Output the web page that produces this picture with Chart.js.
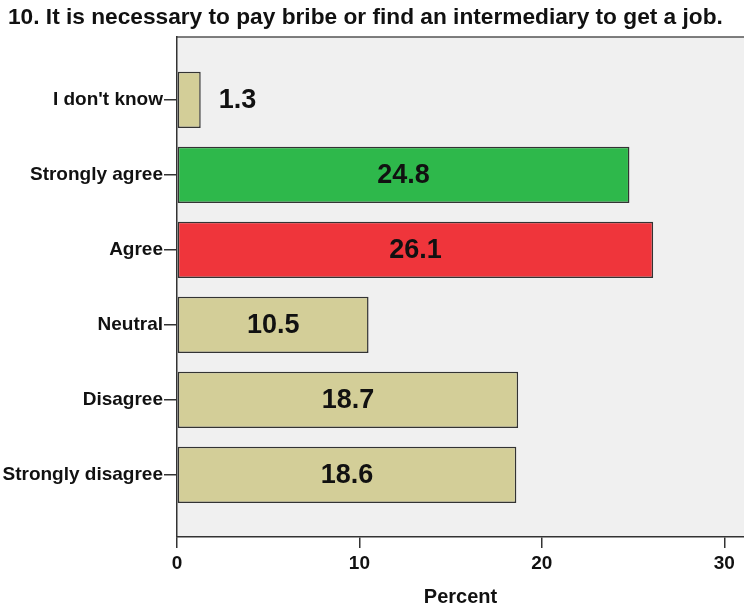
<!DOCTYPE html>
<html>
<head>
<meta charset="utf-8">
<script src="https://cdn.jsdelivr.net/npm/chart.js@4.4.1/dist/chart.umd.min.js"></script>
<style>
  html, body { margin: 0; padding: 0; background: #fff; overflow: hidden; }
  #wrap { width: 744px; height: 610px; }
</style>
</head>
<body>
<div id="wrap"><canvas id="chart" width="744" height="610"></canvas></div>
<script>
// data, top to bottom
const categories = ['I don\'t know', 'Strongly agree', 'Agree', 'Neutral', 'Disagree', 'Strongly disagree'];
const percents = [1.3, 24.8, 26.1, 10.5, 18.7, 18.6];
const barColors = ['#d3ce98', '#2eb84b', '#ef353b', '#d3ce98', '#d3ce98', '#d3ce98'];
const xTicks = [0, 10, 20, 30];

const titleText = '10. It is necessary to pay bribe or find an intermediary to get a job.';
const fontFamily = "'Liberation Sans', Arial, sans-serif";

// plot background, top frame line and the title (left of the axis labels)
const plotBackground = {
    id: 'plotBackground',
    beforeDraw(chart) {
        const { ctx, chartArea } = chart;
        ctx.save();
        ctx.fillStyle = '#f0f0f0';
        ctx.fillRect(chartArea.left, chartArea.top, chartArea.right - chartArea.left, chartArea.bottom - chartArea.top);
        ctx.strokeStyle = '#555';
        ctx.lineWidth = 1.5;
        ctx.beginPath();
        ctx.moveTo(chartArea.left, chartArea.top);
        ctx.lineTo(chartArea.right, chartArea.top);
        ctx.stroke();

        ctx.fillStyle = '#111';
        ctx.font = 'bold 22.7px ' + fontFamily;
        ctx.textAlign = 'left';
        ctx.textBaseline = 'middle';
        ctx.fillText(titleText, 8, 18);
        ctx.restore();
    }
};

// value labels inside the bar, or just past its end when the bar is too short
const valueLabels = {
    id: 'valueLabels',
    afterDatasetsDraw(chart) {
        const { ctx } = chart;
        const meta = chart.getDatasetMeta(0);
        ctx.save();
        ctx.font = 'bold 27px ' + fontFamily;
        ctx.fillStyle = '#111';
        ctx.textBaseline = 'middle';
        meta.data.forEach((bar, i) => {
            const text = percents[i].toFixed(1);
            const w = ctx.measureText(text).width;
            const len = bar.x - bar.base;
            if (len > w + 12) {
                ctx.textAlign = 'center';
                ctx.fillText(text, (bar.x + bar.base) / 2, bar.y + 1);
            } else {
                ctx.textAlign = 'left';
                ctx.fillText(text, bar.x + 18, bar.y + 1);
            }
        });
        ctx.restore();
    }
};

new Chart(document.getElementById('chart'), {
    type: 'bar',
    data: {
        datasets: [{
            data: percents.map((v, i) => ({ x: v, y: i })),
            backgroundColor: barColors,
            borderColor: '#333',
            borderWidth: 1.5,
            borderSkipped: false,
            barPercentage: 1,
            categoryPercentage: 0.75
        }]
    },
    options: {
        indexAxis: 'y',
        responsive: false,
        animation: false,
        layout: { padding: { left: 0, right: 0, top: 37, bottom: 0 } },
        plugins: {
            legend: { display: false },
            tooltip: { enabled: false },
            title: { display: false }
        },
        scales: {
            x: {
                type: 'linear',
                min: 0,
                max: 31.08,
                afterBuildTicks(scale) {
                    scale.ticks = xTicks.map(v => ({ value: v }));
                },
                afterFit(scale) { scale.height = 73; },
                grid: { display: true, drawOnChartArea: false, drawTicks: true, tickLength: 11, color: '#333', lineWidth: 1.5 },
                border: { display: true, color: '#333', width: 1.5 },
                ticks: {
                    color: '#111',
                    padding: 4,
                    maxRotation: 0,
                    font: { family: fontFamily, size: 19, weight: 'bold' }
                },
                title: {
                    display: true,
                    text: 'Percent',
                    color: '#111',
                    font: { family: fontFamily, size: 20, weight: 'bold', lineHeight: 1.2 },
                    padding: { top: 0, bottom: 1 }
                }
            },
            y: {
                type: 'linear',
                reverse: true,
                offset: false,
                min: -0.84,
                max: 5.83,
                afterBuildTicks(scale) {
                    scale.ticks = categories.map((c, i) => ({ value: i }));
                },
                afterFit(scale) { scale.width = 177; },
                grid: { display: true, offset: false, drawOnChartArea: false, drawTicks: true, tickLength: 13, color: '#333', lineWidth: 1.5 },
                border: { display: true, color: '#333', width: 1.5 },
                ticks: {
                    color: '#111',
                    padding: 1,
                    font: { family: fontFamily, size: 19, weight: 'bold' },
                    callback: (value) => categories[value]
                }
            }
        }
    },
    plugins: [plotBackground, valueLabels]
});
</script>
</body>
</html>
